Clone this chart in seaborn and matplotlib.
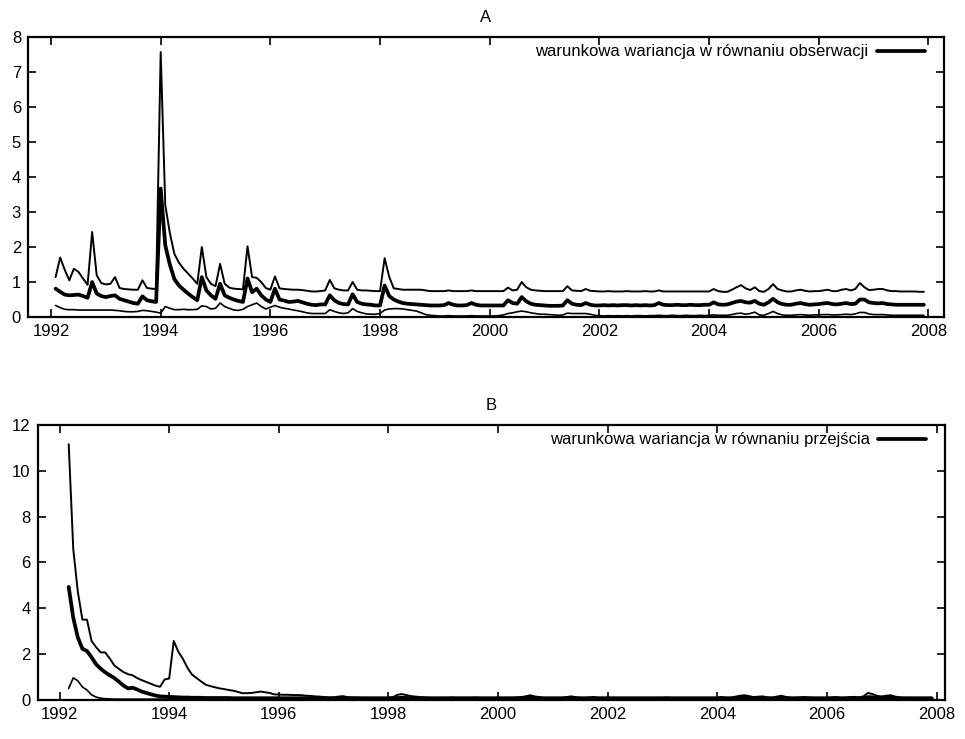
import numpy as np
import pandas as pd
import matplotlib
matplotlib.use("Agg")
import matplotlib.pyplot as plt
import seaborn as sns

# ---------------- data (monthly) ----------------
# Panel A: Feb 1992 .. Dec 2007
upper_A = [
    1.14, 1.70, 1.35, 1.05, 1.38, 1.29, 1.10, 0.92, 2.43, 1.19, 0.97,
    0.93, 0.95, 1.14, 0.83, 0.80, 0.79, 0.78, 0.78, 1.05, 0.83, 0.81, 0.80,
    7.57, 3.20, 2.40, 1.80, 1.55, 1.38, 1.24, 1.10, 0.95, 2.00, 1.14, 0.95,
    0.88, 1.52, 0.95, 0.84, 0.81, 0.80, 0.79, 2.02, 1.14, 1.12, 1.00, 0.83,
    0.78, 1.16, 0.82, 0.80, 0.79, 0.78, 0.78, 0.77, 0.75, 0.73, 0.73, 0.74,
    0.76, 1.06, 0.82, 0.78, 0.76, 0.76, 1.00, 0.78, 0.76, 0.76, 0.75, 0.74,
    0.74, 1.68, 1.15, 0.82, 0.80, 0.78, 0.78, 0.78, 0.78, 0.78, 0.76, 0.74,
    0.74, 0.74, 0.74, 0.76, 0.74, 0.74, 0.74, 0.74, 0.76, 0.74, 0.74, 0.74,
    0.74, 0.74, 0.74, 0.74, 0.84, 0.76, 0.78, 1.00, 0.85, 0.78, 0.76, 0.75,
    0.74, 0.74, 0.74, 0.74, 0.74, 0.88, 0.76, 0.75, 0.74, 0.80, 0.75, 0.74,
    0.73, 0.73, 0.74, 0.73, 0.73, 0.73, 0.74, 0.73, 0.73, 0.73, 0.74, 0.73,
    0.73, 0.76, 0.73, 0.73, 0.73, 0.73, 0.73, 0.73, 0.73, 0.73, 0.73, 0.73,
    0.73, 0.80, 0.74, 0.72, 0.72, 0.78, 0.85, 0.91, 0.82, 0.77, 0.85, 0.74,
    0.72, 0.80, 0.94, 0.80, 0.76, 0.73, 0.73, 0.76, 0.78, 0.75, 0.73, 0.74,
    0.74, 0.76, 0.78, 0.74, 0.74, 0.78, 0.80, 0.76, 0.80, 0.97, 0.85, 0.77,
    0.78, 0.80, 0.80, 0.76, 0.74, 0.74, 0.73, 0.73, 0.73, 0.73, 0.72, 0.72,
]
middle_A = [
    0.81, 0.72, 0.64, 0.62, 0.63, 0.64, 0.60, 0.55, 1.00, 0.67, 0.60,
    0.57, 0.60, 0.62, 0.52, 0.48, 0.44, 0.40, 0.38, 0.59, 0.48, 0.45, 0.43,
    3.67, 2.05, 1.50, 1.08, 0.90, 0.78, 0.67, 0.57, 0.48, 1.14, 0.76, 0.62,
    0.52, 0.95, 0.62, 0.55, 0.50, 0.46, 0.43, 1.10, 0.71, 0.81, 0.62, 0.50,
    0.43, 0.81, 0.50, 0.47, 0.43, 0.44, 0.46, 0.42, 0.38, 0.35, 0.34, 0.36,
    0.36, 0.62, 0.48, 0.40, 0.37, 0.36, 0.65, 0.43, 0.38, 0.36, 0.35, 0.33,
    0.33, 0.90, 0.60, 0.50, 0.44, 0.40, 0.38, 0.37, 0.36, 0.35, 0.34, 0.33,
    0.33, 0.33, 0.34, 0.40, 0.35, 0.33, 0.33, 0.34, 0.40, 0.35, 0.33, 0.33,
    0.33, 0.33, 0.33, 0.33, 0.48, 0.40, 0.38, 0.57, 0.45, 0.38, 0.35, 0.34,
    0.33, 0.32, 0.32, 0.32, 0.33, 0.48, 0.38, 0.35, 0.34, 0.40, 0.35, 0.33,
    0.33, 0.34, 0.33, 0.34, 0.33, 0.34, 0.34, 0.33, 0.34, 0.33, 0.34, 0.33,
    0.34, 0.40, 0.35, 0.34, 0.34, 0.35, 0.34, 0.34, 0.35, 0.34, 0.34, 0.35,
    0.35, 0.42, 0.36, 0.35, 0.36, 0.40, 0.44, 0.46, 0.42, 0.41, 0.46, 0.38,
    0.35, 0.42, 0.52, 0.42, 0.37, 0.35, 0.35, 0.38, 0.40, 0.37, 0.35, 0.36,
    0.37, 0.39, 0.40, 0.37, 0.36, 0.38, 0.40, 0.37, 0.38, 0.50, 0.50, 0.42,
    0.40, 0.39, 0.40, 0.37, 0.36, 0.35, 0.35, 0.35, 0.35, 0.35, 0.35, 0.35,
]
lower_A = [
    0.33, 0.27, 0.22, 0.21, 0.21, 0.20, 0.20, 0.20, 0.20, 0.20, 0.20,
    0.20, 0.20, 0.19, 0.18, 0.16, 0.15, 0.15, 0.16, 0.19, 0.18, 0.16, 0.14,
    0.11, 0.30, 0.25, 0.21, 0.21, 0.22, 0.21, 0.21, 0.22, 0.32, 0.30, 0.23,
    0.25, 0.40, 0.30, 0.25, 0.20, 0.19, 0.22, 0.30, 0.35, 0.40, 0.30, 0.23,
    0.28, 0.33, 0.28, 0.25, 0.23, 0.20, 0.18, 0.15, 0.12, 0.10, 0.10, 0.10,
    0.10, 0.21, 0.16, 0.12, 0.10, 0.12, 0.24, 0.16, 0.12, 0.09, 0.08, 0.08,
    0.10, 0.20, 0.23, 0.24, 0.24, 0.23, 0.21, 0.19, 0.17, 0.12, 0.07, 0.05,
    0.04, 0.03, 0.03, 0.04, 0.03, 0.03, 0.03, 0.03, 0.04, 0.03, 0.03, 0.03,
    0.03, 0.03, 0.04, 0.06, 0.10, 0.12, 0.15, 0.17, 0.15, 0.12, 0.10, 0.08,
    0.08, 0.07, 0.06, 0.05, 0.06, 0.11, 0.10, 0.10, 0.10, 0.10, 0.08, 0.05,
    0.04, 0.03, 0.04, 0.03, 0.04, 0.03, 0.04, 0.03, 0.04, 0.04, 0.03, 0.04,
    0.04, 0.05, 0.04, 0.04, 0.05, 0.04, 0.04, 0.05, 0.04, 0.04, 0.05, 0.04,
    0.05, 0.06, 0.05, 0.05, 0.05, 0.07, 0.10, 0.11, 0.08, 0.10, 0.14, 0.06,
    0.05, 0.10, 0.16, 0.10, 0.06, 0.05, 0.05, 0.06, 0.07, 0.06, 0.05, 0.06,
    0.06, 0.07, 0.07, 0.06, 0.06, 0.07, 0.08, 0.07, 0.09, 0.13, 0.13, 0.09,
    0.07, 0.07, 0.07, 0.06, 0.05, 0.05, 0.05, 0.05, 0.05, 0.05, 0.05, 0.05,
]

# Panel B: Mar 1992 .. Dec 2007
upper_B = [
    11.16, 6.58, 4.72, 3.50, 3.50, 2.57, 2.30, 2.07, 2.07, 1.80,
    1.50, 1.35, 1.21, 1.12, 1.07, 0.95, 0.86, 0.78, 0.70, 0.62, 0.57, 0.89,
    0.93, 2.57, 2.10, 1.79, 1.40, 1.10, 0.95, 0.80, 0.66, 0.60, 0.55, 0.50,
    0.47, 0.43, 0.40, 0.35, 0.29, 0.29, 0.30, 0.33, 0.36, 0.33, 0.30, 0.24,
    0.23, 0.22, 0.22, 0.21, 0.21, 0.20, 0.18, 0.17, 0.15, 0.14, 0.12, 0.11,
    0.11, 0.14, 0.16, 0.12, 0.11, 0.11, 0.10, 0.10, 0.10, 0.10, 0.10, 0.10,
    0.10, 0.12, 0.22, 0.25, 0.20, 0.16, 0.14, 0.12, 0.11, 0.10, 0.10, 0.10,
    0.10, 0.10, 0.11, 0.10, 0.10, 0.10, 0.10, 0.11, 0.10, 0.10, 0.10, 0.10,
    0.10, 0.10, 0.10, 0.10, 0.11, 0.12, 0.15, 0.20, 0.15, 0.12, 0.10, 0.10,
    0.10, 0.10, 0.10, 0.12, 0.15, 0.12, 0.10, 0.10, 0.11, 0.12, 0.10, 0.10,
    0.10, 0.10, 0.10, 0.10, 0.10, 0.10, 0.10, 0.10, 0.10, 0.10, 0.10, 0.10,
    0.10, 0.11, 0.10, 0.10, 0.10, 0.10, 0.10, 0.10, 0.10, 0.10, 0.10, 0.10,
    0.10, 0.12, 0.10, 0.10, 0.14, 0.18, 0.20, 0.16, 0.12, 0.14, 0.15, 0.11,
    0.10, 0.14, 0.18, 0.13, 0.10, 0.10, 0.11, 0.12, 0.11, 0.10, 0.10, 0.10,
    0.10, 0.11, 0.12, 0.10, 0.10, 0.12, 0.13, 0.11, 0.15, 0.30, 0.25, 0.17,
    0.15, 0.18, 0.20, 0.14, 0.11, 0.10, 0.10, 0.10, 0.10, 0.10, 0.10, 0.10,
]
middle_B = [
    4.93, 3.58, 2.72, 2.23, 2.13, 1.86, 1.55, 1.36, 1.20, 1.07,
    0.95, 0.79, 0.62, 0.50, 0.53, 0.45, 0.36, 0.30, 0.24, 0.19, 0.15, 0.14,
    0.13, 0.12, 0.11, 0.10, 0.10, 0.09, 0.09, 0.09, 0.08, 0.08, 0.08, 0.08,
    0.08, 0.08, 0.07, 0.07, 0.07, 0.07, 0.07, 0.07, 0.07, 0.07, 0.07, 0.07,
    0.07, 0.07, 0.07, 0.07, 0.07, 0.07, 0.07, 0.07, 0.06, 0.06, 0.06, 0.06,
    0.06, 0.07, 0.07, 0.06, 0.06, 0.06, 0.06, 0.06, 0.06, 0.06, 0.06, 0.06,
    0.06, 0.07, 0.08, 0.09, 0.08, 0.07, 0.07, 0.06, 0.06, 0.06, 0.06, 0.06,
    0.06, 0.06, 0.06, 0.06, 0.06, 0.06, 0.06, 0.06, 0.06, 0.06, 0.06, 0.06,
    0.06, 0.06, 0.06, 0.06, 0.06, 0.07, 0.08, 0.09, 0.08, 0.07, 0.06, 0.06,
    0.06, 0.06, 0.06, 0.07, 0.08, 0.07, 0.06, 0.06, 0.06, 0.07, 0.06, 0.06,
    0.06, 0.06, 0.06, 0.06, 0.06, 0.06, 0.06, 0.06, 0.06, 0.06, 0.06, 0.06,
    0.06, 0.06, 0.06, 0.06, 0.06, 0.06, 0.06, 0.06, 0.06, 0.06, 0.06, 0.06,
    0.06, 0.07, 0.06, 0.06, 0.07, 0.08, 0.09, 0.08, 0.07, 0.07, 0.08, 0.06,
    0.06, 0.07, 0.08, 0.07, 0.06, 0.06, 0.06, 0.07, 0.06, 0.06, 0.06, 0.06,
    0.06, 0.06, 0.07, 0.06, 0.06, 0.07, 0.07, 0.06, 0.08, 0.12, 0.11, 0.08,
    0.08, 0.09, 0.09, 0.07, 0.06, 0.06, 0.06, 0.06, 0.06, 0.06, 0.06, 0.06,
]
lower_B = [
    0.50, 0.96, 0.83, 0.56, 0.43, 0.22, 0.12, 0.07, 0.05, 0.04,
    0.03, 0.03, 0.03, 0.03, 0.03, 0.03, 0.03, 0.03, 0.03, 0.03, 0.03, 0.03,
    0.03, 0.03, 0.03, 0.03, 0.03, 0.03, 0.03, 0.03, 0.03, 0.03, 0.03, 0.03,
    0.03, 0.03, 0.03, 0.03, 0.03, 0.03, 0.03, 0.03, 0.03, 0.03, 0.03, 0.03,
    0.03, 0.03, 0.03, 0.03, 0.03, 0.03, 0.03, 0.03, 0.02, 0.02, 0.02, 0.02,
    0.02, 0.02, 0.03, 0.02, 0.02, 0.02, 0.02, 0.02, 0.02, 0.02, 0.02, 0.02,
    0.02, 0.03, 0.04, 0.04, 0.03, 0.03, 0.02, 0.02, 0.02, 0.02, 0.02, 0.02,
    0.02, 0.02, 0.02, 0.02, 0.02, 0.02, 0.02, 0.02, 0.02, 0.02, 0.02, 0.02,
    0.02, 0.02, 0.02, 0.02, 0.02, 0.02, 0.03, 0.04, 0.03, 0.02, 0.02, 0.02,
    0.02, 0.02, 0.02, 0.02, 0.03, 0.02, 0.02, 0.02, 0.02, 0.02, 0.02, 0.02,
    0.02, 0.02, 0.02, 0.02, 0.02, 0.02, 0.02, 0.02, 0.02, 0.02, 0.02, 0.02,
    0.02, 0.02, 0.02, 0.02, 0.02, 0.02, 0.02, 0.02, 0.02, 0.02, 0.02, 0.02,
    0.02, 0.02, 0.02, 0.02, 0.02, 0.03, 0.03, 0.03, 0.02, 0.02, 0.03, 0.02,
    0.02, 0.02, 0.03, 0.02, 0.02, 0.02, 0.02, 0.02, 0.02, 0.02, 0.02, 0.02,
    0.02, 0.02, 0.02, 0.02, 0.02, 0.02, 0.02, 0.02, 0.02, 0.04, 0.03, 0.02,
    0.02, 0.02, 0.03, 0.02, 0.02, 0.02, 0.02, 0.02, 0.02, 0.02, 0.02, 0.02,
]

# time axes (decimal years, monthly)
time_A = 1992 + np.arange(1, 1 + len(upper_A)) / 12.0
time_B = 1992 + np.arange(2, 2 + len(upper_B)) / 12.0

year_ticks = [1992, 1994, 1996, 1998, 2000, 2002, 2004, 2006, 2008]
ticks_A = [0, 1, 2, 3, 4, 5, 6, 7, 8]
ticks_B = [0, 2, 4, 6, 8, 10, 12]

titles = ["A", "B"]
legend_labels = ["warunkowa wariancja w równaniu obserwacji",
                 "warunkowa wariancja w równaniu przejścia"]

# ---------------- style ----------------
sns.set_theme(style="ticks")
plt.rcParams["font.family"] = ["Liberation Sans", "DejaVu Sans"]
plt.rcParams["axes.linewidth"] = 1.6
plt.rcParams["axes.edgecolor"] = "black"
plt.rcParams["text.color"] = "black"
plt.rcParams["axes.labelcolor"] = "black"
plt.rcParams["xtick.color"] = "black"
plt.rcParams["ytick.color"] = "black"

fig = plt.figure(figsize=(9.65, 7.39), dpi=100)
axA = fig.add_axes([0.029, 0.571, 0.949, 0.379])
axB = fig.add_axes([0.039, 0.053, 0.940, 0.372])

panels = [
    (axA, time_A, upper_A, middle_A, lower_A, ticks_A, (0, 8), (1991.58, 2008.28)),
    (axB, time_B, upper_B, middle_B, lower_B, ticks_B, (0, 12), (1991.6, 2008.15)),
]

for k, (ax, t, up, mid, lo, yt, ylim, xlim) in enumerate(panels):
    df = pd.DataFrame({"t": t, "upper": up, "middle": mid, "lower": lo})
    sns.lineplot(data=df, x="t", y="upper", ax=ax, color="black", lw=1.4)
    sns.lineplot(data=df, x="t", y="middle", ax=ax, color="black", lw=2.7,
                 label=legend_labels[k])
    sns.lineplot(data=df, x="t", y="lower", ax=ax, color="black", lw=1.2)
    ax.set_xlim(*xlim)
    ax.set_ylim(*ylim)
    ax.set_xticks(year_ticks)
    ax.set_yticks(yt)
    ax.set_xlabel("")
    ax.set_ylabel("")
    ax.tick_params(direction="in", top=True, right=True, length=6, width=1.2,
                   labelsize=12, colors="black", pad=5)
    for s in ax.spines.values():
        s.set_visible(True)
        s.set_color("black")
    ax.set_title(titles[k], fontsize=12, pad=11, color="black")
    ax.legend(loc="upper right", bbox_to_anchor=(0.988, 1.0),
              frameon=False, markerfirst=False, fontsize=12,
              handlelength=2.9, borderaxespad=0.15, borderpad=0.3,
              handletextpad=0.5, labelcolor="black")

fig.savefig("out.png", dpi=100, facecolor="white")
